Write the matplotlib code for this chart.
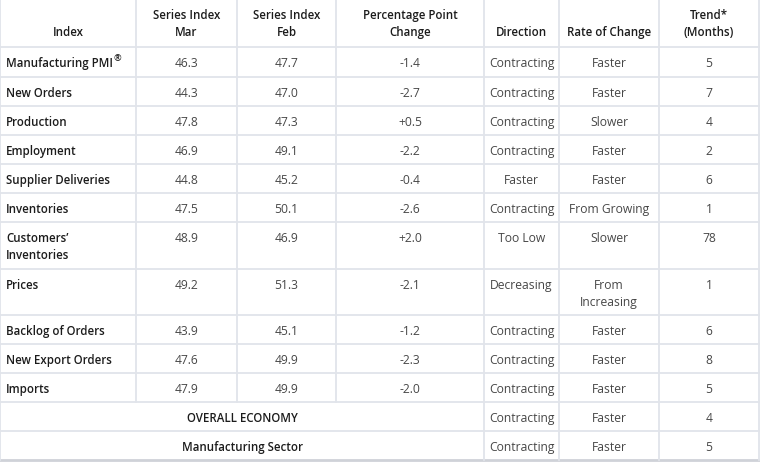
import matplotlib.pyplot as plt

# Daten der Tabelle
headers = ["Index", "Series Index\nMar", "Series Index\nFeb", "Percentage Point\nChange",
           "Direction", "Rate of Change", "Trend*\n(Months)"]
index_names = ["Manufacturing PMI", "New Orders", "Production", "Employment",
               "Supplier Deliveries", "Inventories", "Customers’\nInventories", "Prices",
               "Backlog of Orders", "New Export Orders", "Imports"]
mar = [46.3, 44.3, 47.8, 46.9, 44.8, 47.5, 48.9, 49.2, 43.9, 47.6, 47.9]
feb = [47.7, 47.0, 47.3, 49.1, 45.2, 50.1, 46.9, 51.3, 45.1, 49.9, 49.9]
change = [-1.4, -2.7, 0.5, -2.2, -0.4, -2.6, 2.0, -2.1, -1.2, -2.3, -2.0]
direction = ["Contracting", "Contracting", "Contracting", "Contracting", "Faster",
             "Contracting", "Too Low", "Decreasing", "Contracting", "Contracting", "Contracting"]
rate = ["Faster", "Faster", "Slower", "Faster", "Faster", "From Growing", "Slower",
        "From\nIncreasing", "Faster", "Faster", "Faster"]
trend = [5, 7, 4, 2, 6, 1, 78, 1, 6, 8, 5]

summary_names = ["OVERALL ECONOMY", "Manufacturing Sector"]
summary_direction = ["Contracting", "Contracting"]
summary_rate = ["Faster", "Faster"]
summary_trend = [4, 5]

# Layout (Pixel)
col_edges = [0, 136, 237, 336, 484, 559, 659, 759]
row_heights = [30, 29, 29, 29, 29, 29, 47, 46, 29, 29, 29]
header_h = 47
summary_h = 29
line_h = 17
grid_col = "#e1e4ea"
label_col = "#1c1c1c"
value_col = "#474747"
fs = 8.7       # normale Schrift
fs_b = 8.3     # Halbfett (Open Sans SemiBold)

plt.rcParams['font.family'] = ['Open Sans', 'DejaVu Sans']

fig = plt.figure(figsize=(7.6, 4.62), dpi=100)
ax = fig.add_axes([0, 0, 1, 1])
ax.set_xlim(0, 760)
ax.set_ylim(462, 0)
ax.axis('off')


def draw_lines(x, y_top, text, ha, color, bold):
    for i, part in enumerate(text.split("\n")):
        ax.text(x, y_top + i * line_h, part, ha=ha, va='center',
                fontsize=fs_b if bold else fs, color=color,
                fontweight='semibold' if bold else 'normal')


def centre(c):
    return (col_edges[c] + col_edges[c + 1]) / 2


# Kopfzeile
for c, h in enumerate(headers):
    parts = h.split("\n")
    y0 = header_h - 14.5 - (len(parts) - 1) * line_h
    draw_lines(centre(c), y0, h, 'center', label_col, True)

# Datenzeilen
y = header_h
ax.plot([0, 759], [y, y], color=grid_col, lw=1.3)
for r, name in enumerate(index_names):
    h = row_heights[r]
    ty = y + 16.2
    draw_lines(6, ty, name, 'left', label_col, True)
    if r == 0:
        fig.canvas.draw()
        t = ax.texts[-1]
        bb = t.get_window_extent()
        x_end = ax.transData.inverted().transform((bb.x1, bb.y1))[0]
        ax.text(x_end + 0.5, ty - 4.5, "®", ha='left', va='center', fontsize=fs_b * 0.8,
                color=label_col, fontweight='semibold')
    cells = [f"{mar[r]:.1f}", f"{feb[r]:.1f}", f"{change[r]:+.1f}",
             direction[r], rate[r], str(trend[r])]
    for c, val in enumerate(cells, start=1):
        draw_lines(centre(c), ty, val, 'center', value_col, False)
    y += h
    ax.plot([0, 759], [y, y], color=grid_col, lw=1.3)

# Zusammenfassung
for s, name in enumerate(summary_names):
    ty = y + 16.2
    draw_lines(col_edges[4] / 2, ty, name, 'center', label_col, True)
    for c, val in zip([4, 5, 6], [summary_direction[s], summary_rate[s], str(summary_trend[s])]):
        draw_lines(centre(c), ty, val, 'center', value_col, False)
    y_next = y + summary_h
    ax.plot([0, 759], [y_next, y_next], color=grid_col if s == 0 else "#cfd2d8",
            lw=1.3 if s == 0 else 2)
    y = y_next

# Vertikale Linien
table_bottom = y
data_bottom = table_bottom - 2 * summary_h
for c, xe in enumerate(col_edges):
    if c in (0, 4, 5, 6, 7):
        ax.plot([xe, xe], [0, table_bottom], color=grid_col, lw=1.3)
    else:
        ax.plot([xe, xe], [0, data_bottom], color=grid_col, lw=1.3)

fig.savefig("out.png", dpi=100)
